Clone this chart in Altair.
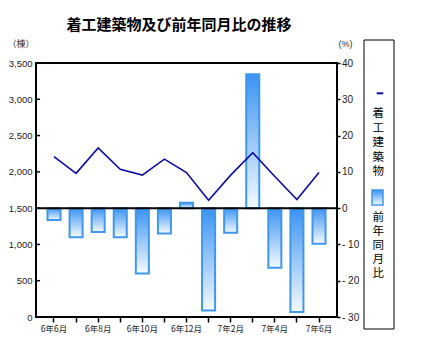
import altair as alt
import pandas as pd

months = ["6年6月", "6年7月", "6年8月", "6年9月", "6年10月", "6年11月", "6年12月",
          "7年1月", "7年2月", "7年3月", "7年4月", "7年5月", "7年6月"]
shown_labels = ["6年6月", "6年8月", "6年10月", "6年12月", "7年2月", "7年4月", "7年6月"]
counts = [2210, 1980, 2330, 2035, 1955, 2175, 1990, 1610, 1955, 2265, 1935, 1620, 1990]
pct = [-3.3, -8.0, -6.6, -8.0, -18.0, -7.0, 1.5, -28.2, -6.8, 36.9, -16.4, -28.6, -9.8]
count_ticks = [500, 1000, 1500, 2000, 2500, 3000]
count_values = [0, 500, 1000, 1500, 2000, 2500, 3000, 3500]
pct_values = [-30, -20, -10, 0, 10, 20, 30, 40]

title_text = "着工建築物及び前年同月比の推移"
left_unit = "（棟）"
right_unit = "(%)"
legend1 = ["着", "工", "建", "築", "物"]
legend2 = ["前", "年", "同", "月", "比"]
legend1_y = [51, 65.5, 80, 94.5, 108.5]
legend2_y = [155, 169, 183, 197, 210.5]

df = pd.DataFrame({"month": months, "count": counts, "pct": pct})
ticks_df = pd.DataFrame({"count": count_ticks})
one = pd.DataFrame({"a": [0]})

label_list = "[" + ",".join("'" + s + "'" for s in shown_labels) + "]"

x_enc = alt.X(
    "month:N", sort=months,
    scale=alt.Scale(paddingInner=0.41, paddingOuter=0.52),
    axis=alt.Axis(title=None, labelAngle=0, bandPosition=0.5,
                  labelExpr="indexof(" + label_list + ", datum.value) >= 0 ? datum.label : ''",
                  tickSize=5, tickColor="black", tickWidth=1.5, domain=False, grid=False,
                  labelFont="Noto Sans CJK JP", labelFontSize=8.5, labelColor="#222",
                  labelPadding=2),
)

pct_scale = alt.Scale(domain=[-30, 40], nice=False, zero=False)
count_scale = alt.Scale(domain=[0, 3500], nice=False, zero=False)

y_pct = alt.Y("pct:Q", scale=pct_scale,
              axis=alt.Axis(orient="right", values=pct_values, title=None, grid=False, domain=False,
                            tickSize=3, tickColor="black", tickWidth=1.5, labelPadding=1.5,
                            labelOverlap=False, labelBound=False, labelFlush=False,
                            labelFont="Liberation Sans", labelFontSize=10, labelColor="#222",
                            labelExpr="datum.value < 0 ? '- ' + (-datum.value) : '' + datum.value"))
y_count = alt.Y("count:Q", scale=count_scale,
                axis=alt.Axis(orient="left", values=count_values, title=None, grid=False,
                              domain=False, tickSize=0, labelPadding=4, labelOverlap=False,
                              labelBound=False, labelFlush=False,
                              labelExpr="format(datum.value, ',')",
                              labelFont="Liberation Sans", labelFontSize=9.5, labelColor="#222"))

grad = alt.Gradient(gradient="linear", x1=0, y1=0, x2=0, y2=1,
                    stops=[alt.GradientStop(color="#3a93f2", offset=0),
                           alt.GradientStop(color="#f5faff", offset=1)])

bars = alt.Chart(df).mark_bar(fill=grad, stroke="#3f98ec", strokeWidth=2).encode(
    x=x_enc, y=y_pct, y2=alt.datum(0))
zero_rule = alt.Chart(one).mark_rule(color="black", strokeWidth=2).encode(
    y=alt.YDatum(0, scale=pct_scale, axis=None))

line = alt.Chart(df).mark_line(color="#0d0da6", strokeWidth=1.6).encode(x=x_enc, y=y_count)
left_ticks = alt.Chart(ticks_df).mark_rule(color="black", strokeWidth=1.5).encode(
    y=alt.Y("count:Q", scale=count_scale, axis=None), x=alt.value(0), x2=alt.value(4))

title = alt.Chart(one).mark_text(text=title_text, font="Noto Sans CJK JP", fontSize=15,
                                 fontWeight="bold", align="center", baseline="middle",
                                 color="black").encode(x=alt.value(143), y=alt.value(-38))
lunit = alt.Chart(one).mark_text(text=left_unit, font="Noto Sans CJK JP", fontSize=9,
                                 align="center", baseline="middle", color="#333").encode(
    x=alt.value(-15), y=alt.value(-19))
runit = alt.Chart(one).mark_text(text=right_unit, font="Liberation Sans", fontSize=9,
                                 align="center", baseline="middle", color="#333").encode(
    x=alt.value(309.5), y=alt.value(-19))
legend_box = alt.Chart(one).mark_rect(fill="white", stroke="black", strokeWidth=1).encode(
    x=alt.value(328), x2=alt.value(358), y=alt.value(-23), y2=alt.value(266))
legend_line = alt.Chart(one).mark_rule(color="#0d0da6", strokeWidth=2).encode(
    x=alt.value(340.7), x2=alt.value(347.3), y=alt.value(30.3))
legend_rect = alt.Chart(one).mark_rect(fill=grad, stroke="#3f98ec", strokeWidth=1.5).encode(
    x=alt.value(336), x2=alt.value(347), y=alt.value(127), y2=alt.value(142))

legend_chars = []
for ch, yy in list(zip(legend1, legend1_y)) + list(zip(legend2, legend2_y)):
    legend_chars.append(
        alt.Chart(one).mark_text(text=ch, font="Noto Sans CJK JP", fontSize=11.5,
                                 align="center", baseline="middle", color="black").encode(
            x=alt.value(342.3), y=alt.value(yy)))

chart = alt.layer(
    bars, zero_rule, line, left_ticks, title, lunit, runit, legend_box, legend_line,
    legend_rect, *legend_chars
).resolve_scale(y="independent").properties(
    width=301, height=254,
    autosize=alt.AutoSizeParams(type="none"),
    padding={"left": 28, "top": 55, "right": 92, "bottom": 35},
    background="white",
).configure_view(stroke="black", strokeWidth=2).configure_axis(labelOverlap=False)

chart.save("out.html", embed_options={"renderer": "svg", "actions": False})
